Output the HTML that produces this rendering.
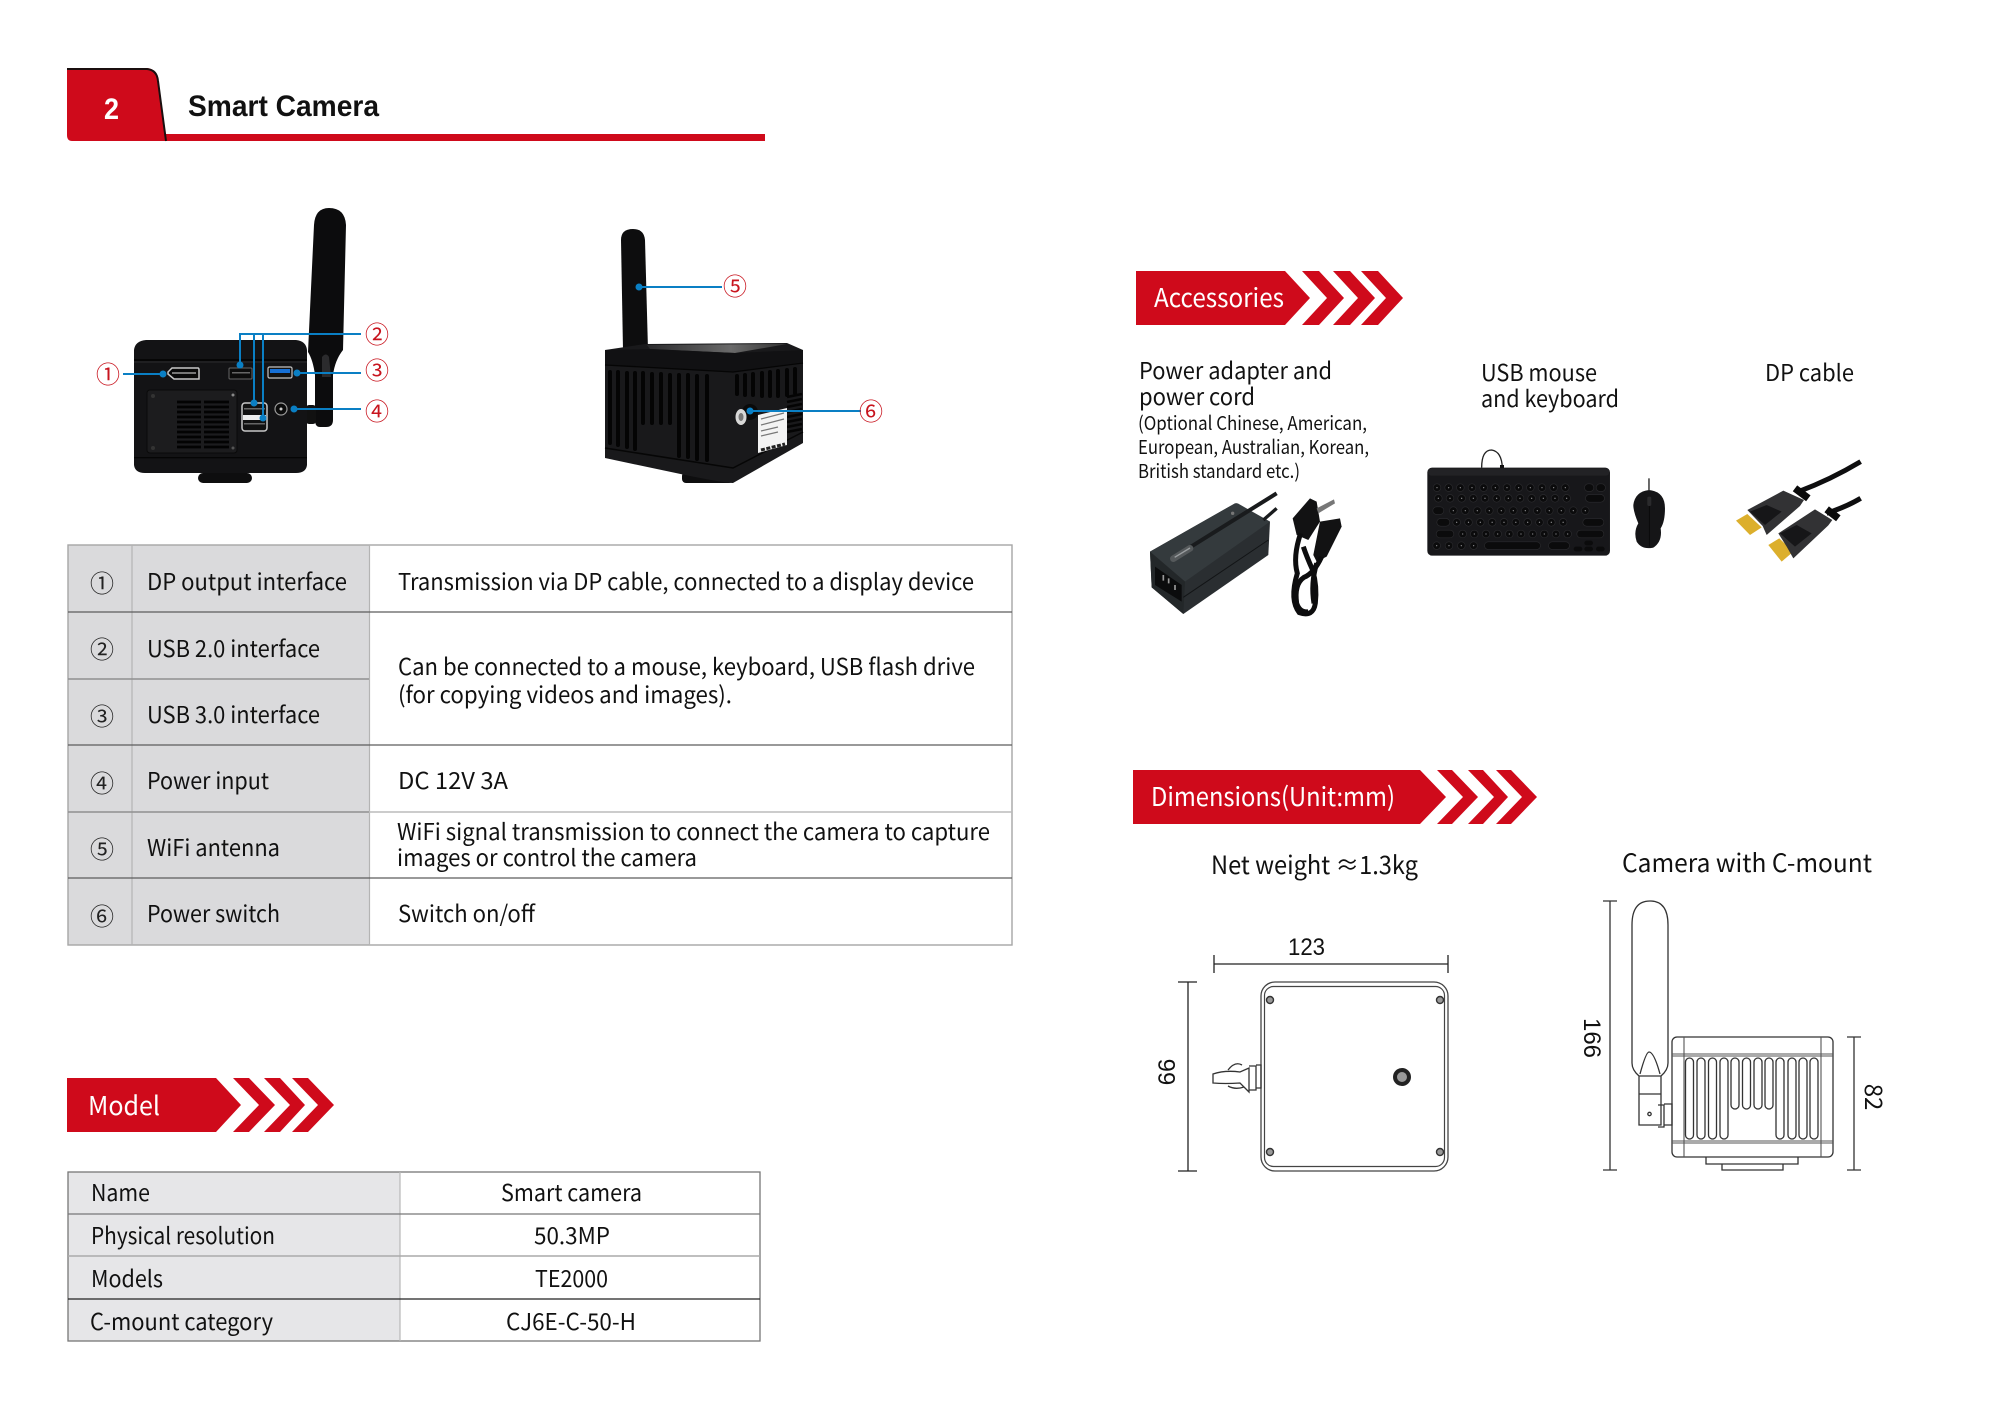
<!DOCTYPE html>
<html><head><meta charset="utf-8"><title>Smart Camera</title>
<style>
html,body{margin:0;padding:0;background:#fff;width:2000px;height:1414px;overflow:hidden}
svg{display:block}
text{font-family:"Noto Sans CJK SC","Liberation Sans",sans-serif;fill:#111}
.t{font-size:23px}
.w{fill:#fff;font-size:26px}
.a{font-family:"Liberation Sans",sans-serif;font-size:24px;fill:#111}
.c{font-size:24px;text-anchor:middle;fill:#222}
.r{font-size:24px;text-anchor:middle;fill:#c8141e}
.bl{stroke:#0a7fc4;stroke-width:2;fill:none}
.dot{fill:#0a7fc4}
.ln{stroke:#333;stroke-width:1.3;fill:none}
</style></head><body>
<svg width="2000" height="1414" viewBox="0 0 2000 1414" xmlns="http://www.w3.org/2000/svg">
<defs>
<linearGradient id="tf" x1="0" y1="0" x2="1" y2="0"><stop offset="0" stop-color="#2a2a2c"/><stop offset=".6" stop-color="#6a6a6a"/><stop offset="1" stop-color="#333"/></linearGradient>
</defs>
<rect width="2000" height="1414" fill="#fff"/>

<!-- Header -->
<rect x="165" y="134" width="600" height="7" fill="#cf0a1b"/>
<path d="M67 68H147Q157 69 158 80L166 141H72Q67 141 67 135Z" fill="#cf0a1b"/>
<path d="M67 69H147Q157 70 158 81L166 141" fill="none" stroke="#1a0f0f" stroke-width="2"/>
<text x="104" y="119" textLength="15" lengthAdjust="spacingAndGlyphs" style="font-family:'Liberation Sans',sans-serif;font-weight:bold;font-size:30px;fill:#fff">2</text>
<text x="188" y="116" textLength="191" lengthAdjust="spacingAndGlyphs" style="font-family:'Liberation Sans',sans-serif;font-weight:bold;font-size:30px;fill:#111">Smart Camera</text>

<!-- Camera 1 -->
<path d="M314 225Q315 208 329 208Q345 208 346 225L343 350Q335 360 333 375V420Q333 427 326 427H320Q315 427 315 420V375Q313 360 308 352Z" fill="#0c0c0d"/>
<path d="M322 357Q326 352 329 357L331 377H322Z" fill="#2b2b2d"/>
<rect x="306" y="405" width="10" height="19" rx="3" fill="#111"/>
<path d="M134 350Q135 341 146 340H296Q306 341 307 350V465Q306 473 296 473H145Q135 473 134 465Z" fill="#131315"/>
<path d="M134 362H307" stroke="#2b2b2d" stroke-width="1"/>
<path d="M134 360H307" stroke="#060606" stroke-width="2"/>
<rect x="134" y="457" width="173" height="1.300" fill="#050505"/>
<rect x="198" y="473" width="54" height="10" rx="5" fill="#0e0e0f"/>
<rect x="147" y="390" width="90" height="63" rx="3" fill="#1c1c1e" stroke="#0a0a0a"/>
<g stroke="#030303" stroke-width="2.800">
<path d="M177 402H201M204 402H229M177 407H201M204 407H229M177 412H201M204 412H229M177 417H201M204 417H229M177 422H201M204 422H229M177 427H201M204 427H229M177 432H201M204 432H229M177 437H201M204 437H229M177 442H201M204 442H229M177 447H201M204 447H229"/>
</g>
<circle cx="153" cy="396" r="2" fill="#333"/><circle cx="233" cy="395" r="1.500" fill="#888"/><circle cx="153" cy="448" r="2" fill="#333"/><circle cx="233" cy="448" r="1.500" fill="#555"/>
<path d="M172 368H198Q199 368 199 370V379H174L168 374V372Z" fill="#0a0a0a" stroke="#c8c8c8" stroke-width="1.500"/>
<rect x="172" y="372" width="24" height="2" fill="#777"/>
<rect x="229" y="368" width="23" height="11" rx="1" fill="#0c0c0c" stroke="#666"/>
<rect x="232" y="372" width="18" height="1.500" fill="#666"/>
<rect x="268" y="367" width="24" height="11" rx="1.500" fill="#111" stroke="#c4c4c4" stroke-width="1.200"/>
<rect x="270" y="369" width="20" height="4" fill="#1670d6"/>
<rect x="242" y="403" width="25" height="28" rx="3" fill="#111" stroke="#c8c8c8" stroke-width="1.500"/>
<rect x="243" y="415" width="23" height="5" fill="#eee"/>
<rect x="244" y="423" width="21" height="1.500" fill="#666"/><rect x="244" y="408" width="21" height="1.500" fill="#666"/>
<circle cx="281" cy="409" r="6" fill="#0b0b0b" stroke="#9a9a9a" stroke-width="1.200"/><circle cx="281" cy="409" r="1.500" fill="#ccc"/>

<!-- Camera 1 callouts -->
<path class="bl" d="M123 374H163M361 334H240V365M254 334V403M263 334V418M297 373H361M294 409H361"/>
<circle class="dot" cx="163" cy="374" r="3.500"/><circle class="dot" cx="240" cy="365" r="3.500"/><circle class="dot" cx="254" cy="403" r="3.500"/><circle class="dot" cx="263" cy="418" r="3.500"/><circle class="dot" cx="297" cy="373" r="3.500"/><circle class="dot" cx="294" cy="409" r="3.500"/>
<text class="r" x="108" y="383">①</text>
<text class="r" x="377" y="343">②</text>
<text class="r" x="377" y="379">③</text>
<text class="r" x="377" y="420">④</text>

<!-- Camera 2 -->
<path d="M621 240Q621 229 633 229Q644 229 645 240L648 350H623Z" fill="#0d0d0e"/>
<rect x="682" y="472" width="51" height="11" rx="4" fill="#0e0e0f"/>
<path d="M605 350L645 344L787 343L803 350V443L733 483Q725 483 690 476L605 458Z" fill="#19191b"/>
<path d="M647 345L787 344L735 353L650 349Z" fill="url(#tf)"/>
<path d="M605 350L650 349L735 353L803 350V362L733 372L605 365Z" fill="#111113"/>
<path d="M605 448L733 468L803 432" stroke="#060606" stroke-width="1.500" fill="none"/>
<path d="M605 365L733 372L803 363" stroke="#050505" stroke-width="1.300" fill="none"/>
<g stroke="#040404" stroke-width="4" stroke-linecap="round">
<path d="M610 372V443M618 372V445M627 373V447M635 373V449M643 373V423M652 374V423M661 374V423M670 375V423M679 375V456M688 375V457M697 376V459M707 376V460"/>
<path d="M737 376V394M745 375V395M753 374V395M762 373V396M770 372V396M778 371V396M787 370V395M795 369V393"/>
</g>
<g stroke="#040404" stroke-width="2.500"><path d="M787 397L802 394M787 402L802 399M787 407L802 404M787 412L802 409M787 417L802 414M787 422L802 419M787 427L802 424M787 432L802 429"/></g>
<circle cx="750" cy="412" r="8" fill="#0a0a0a"/>
<ellipse cx="741" cy="417" rx="5.500" ry="8" fill="#d8d8d8"/><ellipse cx="741" cy="417" rx="2.500" ry="4" fill="#777"/>
<path d="M758 415L787 408V445L758 453Z" fill="#f3f3f3"/>
<path d="M761 419L784 413M761 425L784 419M761 431L778 427M761 436L778 432" stroke="#777" stroke-width="1.200"/>
<path d="M761 450L785 444" stroke="#222" stroke-width="3" stroke-dasharray="4 1.500"/>
<path class="bl" d="M639 287H722M750 411H861"/>
<circle class="dot" cx="639" cy="287" r="3.500"/><circle class="dot" cx="750" cy="411" r="3.500"/>
<text class="r" x="735" y="295">⑤</text>
<text class="r" x="871" y="420">⑥</text>

<!-- Big table -->
<rect x="68" y="545" width="301" height="400" fill="#dadadc"/>
<rect x="68" y="545" width="944" height="400" fill="none" stroke="#a6a6a6" stroke-width="1.400"/>
<path d="M132 545V945M369.500 545V945" stroke="#b4b4b4" stroke-width="1.200"/>
<path d="M68 612H1012M68 745H1012M68 878H1012" stroke="#5c5c5c" stroke-width="1.300"/>
<path d="M68 679H369" stroke="#909090" stroke-width="1.600"/>
<path d="M68 812H369" stroke="#909090" stroke-width="1.600"/>
<path d="M369 812H1012" stroke="#bbb" stroke-width="1.600"/>
<text class="c" x="102" y="592">①</text><text class="c" x="102" y="658">②</text><text class="c" x="102" y="725">③</text><text class="c" x="102" y="792">④</text><text class="c" x="102" y="858">⑤</text><text class="c" x="102" y="925">⑥</text>
<text class="t" x="147" y="590" textLength="200" lengthAdjust="spacingAndGlyphs">DP output interface</text>
<text class="t" x="147" y="657" textLength="173" lengthAdjust="spacingAndGlyphs">USB 2.0 interface</text>
<text class="t" x="147" y="723" textLength="173" lengthAdjust="spacingAndGlyphs">USB 3.0 interface</text>
<text class="t" x="147" y="789" textLength="122" lengthAdjust="spacingAndGlyphs">Power input</text>
<text class="t" x="147" y="856" textLength="133" lengthAdjust="spacingAndGlyphs">WiFi antenna</text>
<text class="t" x="147" y="922" textLength="133" lengthAdjust="spacingAndGlyphs">Power switch</text>
<text class="t" x="398" y="590" textLength="576" lengthAdjust="spacingAndGlyphs">Transmission via DP cable, connected to a display device</text>
<text class="t" x="398" y="675" textLength="577" lengthAdjust="spacingAndGlyphs">Can be connected to a mouse, keyboard, USB flash drive</text>
<text class="t" x="398" y="703" textLength="334" lengthAdjust="spacingAndGlyphs">(for copying videos and images).</text>
<text class="t" x="398" y="789" textLength="110" lengthAdjust="spacingAndGlyphs">DC 12V 3A</text>
<text class="t" x="397" y="840" textLength="593" lengthAdjust="spacingAndGlyphs">WiFi signal transmission to connect the camera to capture</text>
<text class="t" x="397" y="866" textLength="300" lengthAdjust="spacingAndGlyphs">images or control the camera</text>
<text class="t" x="398" y="922" textLength="137" lengthAdjust="spacingAndGlyphs">Switch on/off</text>

<!-- Model -->
<path d="M67 1078H216L241 1105L216 1132H67Z" fill="#cf0a1b"/>
<path d="M233 1078H249L275 1105L249 1132H233L259 1105Z M264 1078H280L305 1105L280 1132H264L290 1105Z M292 1078H308L334 1105L308 1132H292L318 1105Z" fill="#cf0a1b"/>
<text class="w" x="88" y="1115" textLength="72" lengthAdjust="spacingAndGlyphs">Model</text>

<rect x="68" y="1172" width="332" height="169" fill="#e6e6e8"/>
<rect x="68" y="1172" width="692" height="169" fill="none" stroke="#777" stroke-width="1.300"/>
<path d="M400 1172V1341" stroke="#b8b8b8" stroke-width="1.200"/>
<path d="M68 1214H760" stroke="#777" stroke-width="1.300"/>
<path d="M68 1256H760" stroke="#aaa" stroke-width="1.600"/>
<path d="M68 1299H760" stroke="#222" stroke-width="1.300"/>
<text class="t" x="91" y="1201" textLength="59" lengthAdjust="spacingAndGlyphs">Name</text>
<text class="t" x="91" y="1244" textLength="184" lengthAdjust="spacingAndGlyphs">Physical resolution</text>
<text class="t" x="91" y="1287" textLength="72" lengthAdjust="spacingAndGlyphs">Models</text>
<text class="t" x="90" y="1330" textLength="183" lengthAdjust="spacingAndGlyphs">C-mount category</text>
<text class="t" x="501" y="1201" textLength="141" lengthAdjust="spacingAndGlyphs">Smart camera</text>
<text class="t" x="534" y="1244" textLength="76" lengthAdjust="spacingAndGlyphs">50.3MP</text>
<text class="t" x="535" y="1287" textLength="73" lengthAdjust="spacingAndGlyphs">TE2000</text>
<text class="t" x="506" y="1330" textLength="130" lengthAdjust="spacingAndGlyphs">CJ6E-C-50-H</text>

<!-- Accessories -->
<path d="M1136 271H1285L1310 298L1285 325H1136Z" fill="#cf0a1b"/>
<path d="M1302 271H1319L1344 298L1319 325H1302L1327 298Z M1333 271H1350L1375 298L1350 325H1333L1358 298Z M1361 271H1378L1403 298L1378 325H1361L1386 298Z" fill="#cf0a1b"/>
<text class="w" x="1154" y="307" textLength="130" lengthAdjust="spacingAndGlyphs">Accessories</text>

<text class="t" x="1139" y="379" textLength="193" lengthAdjust="spacingAndGlyphs">Power adapter and</text>
<text class="t" x="1139" y="405" textLength="116" lengthAdjust="spacingAndGlyphs">power cord</text>
<text x="1138" y="430" textLength="229" lengthAdjust="spacingAndGlyphs" style="font-size:19px">(Optional Chinese, American,</text>
<text x="1138" y="454" textLength="231" lengthAdjust="spacingAndGlyphs" style="font-size:19px">European, Australian, Korean,</text>
<text x="1138" y="478" textLength="162" lengthAdjust="spacingAndGlyphs" style="font-size:19px">British standard etc.)</text>
<text class="t" x="1481" y="381" textLength="116" lengthAdjust="spacingAndGlyphs">USB mouse</text>
<text class="t" x="1481" y="407" textLength="138" lengthAdjust="spacingAndGlyphs">and keyboard</text>
<text class="t" x="1765" y="381" textLength="89" lengthAdjust="spacingAndGlyphs">DP cable</text>

<!-- Power adapter (crop coords) -->
<g transform="translate(1140 490) scale(.3333)">
<path d="M30 185L285 40L390 95L385 195L130 372L35 292Z" fill="#2a2e31"/>
<path d="M30 185L285 40Q292 38 300 44L390 95L135 275Z" fill="#343a3d"/>
<path d="M30 185L135 275L130 372L35 292Z" fill="#232729"/>
<path d="M130 322L385 150" stroke="#121416" stroke-width="3"/>
<path d="M45 230L125 285V335L45 285Z" fill="#0b0c0d"/>
<path d="M70 255V272M86 265V280M105 285V300" stroke="#999" stroke-width="5"/>
<circle cx="278" cy="70" r="5" fill="#777"/>
<path d="M150 172L410 10" stroke="#191b1d" stroke-width="12"/>
<path d="M370 90L410 55" stroke="#191b1d" stroke-width="10"/>
<path d="M100 206L150 175" stroke="#55595b" stroke-width="20" stroke-linecap="round"/>
<path d="M104 202L150 174" stroke="#9a9ea0" stroke-width="4"/>
<!-- cord -->
<path d="M458 85L510 25L530 35L540 95L505 150L470 135Z" fill="#121213"/>
<path d="M530 55L582 28L585 40L535 70Z" fill="#777"/>
<path d="M540 95L600 85L605 110L560 200L530 215L520 195Z" fill="#121213"/>
<g fill="none" stroke="#0d0d0e" stroke-width="15">
<path d="M482 130Q458 200 472 250Q448 330 478 368Q520 382 526 340Q532 290 518 240Q500 200 490 170"/>
<path d="M545 200Q522 250 492 262Q462 282 470 340Q480 370 505 365"/>
<path d="M530 220Q512 280 522 340"/>
</g>
</g>

<!-- Keyboard + mouse (crop coords) -->
<g transform="translate(1420 445) scale(.3333)">
<path d="M185 68Q185 15 215 15Q245 20 247 68" fill="none" stroke="#222" stroke-width="4"/>
<rect x="240" y="60" width="12" height="10" fill="#111"/>
<rect x="22" y="68" width="548" height="264" rx="14" fill="#17171a"/>
<rect x="24" y="70" width="544" height="22" rx="10" fill="#222225"/>
<g fill="none" stroke-linecap="round">
<g stroke="#2a2a2d" stroke-width="25">
<path d="M51 128H470" stroke-dasharray="0 35"/>
<path d="M55 160H475" stroke-dasharray="0 35"/>
<path d="M100 197H505" stroke-dasharray="0 36"/>
<path d="M110 232H465" stroke-dasharray="0 35.500"/>
<path d="M128 267H445" stroke-dasharray="0 35"/>
<path d="M50 302H170" stroke-dasharray="0 37"/>
<path d="M50 197H60M62 232H78M60 267H90M505 128H510M540 128H545M508 160H542M500 232H540M482 267H540M205 302H350M397 302H437"/>
</g>
<g stroke="#0b0b0c" stroke-width="21">
<path d="M51 128H470" stroke-dasharray="0 35"/>
<path d="M55 160H475" stroke-dasharray="0 35"/>
<path d="M100 197H505" stroke-dasharray="0 36"/>
<path d="M110 232H465" stroke-dasharray="0 35.500"/>
<path d="M128 267H445" stroke-dasharray="0 35"/>
<path d="M50 302H170" stroke-dasharray="0 37"/>
<path d="M50 197H60M62 232H78M60 267H90M505 128H510M540 128H545M508 160H542M500 232H540M482 267H540M205 302H350M397 302H437"/>
</g>
<g stroke="#8a8a8c" stroke-width="4">
<path d="M51 128H470" stroke-dasharray="0 35"/>
<path d="M55 160H475" stroke-dasharray="0 35"/>
<path d="M100 197H505" stroke-dasharray="0 36"/>
<path d="M110 232H465" stroke-dasharray="0 35.500"/>
<path d="M128 267H445" stroke-dasharray="0 35"/>
<path d="M50 302H170" stroke-dasharray="0 37"/>
</g>
<path d="M468 312H480M500 312H512M535 312H547M500 294H512" stroke="#0b0b0c" stroke-width="14"/>
</g>
<path d="M687 100V135" stroke="#222" stroke-width="4"/>
<path d="M687 135Q735 140 735 190Q735 230 722 250Q728 290 700 308Q665 315 650 290Q640 260 655 235Q640 200 640 180Q645 140 687 135Z" fill="#151517"/>
<rect x="682" y="155" width="12" height="28" rx="5" fill="#2a2a2c"/>
<path d="M688 183V305" stroke="#050505" stroke-width="2"/>
</g>

<!-- DP cables (crop coords) -->
<g transform="translate(1730 450) scale(.3333)">
<path d="M392 35Q300 90 205 125" stroke="#0e0e0f" stroke-width="15" fill="none"/>
<path d="M392 145Q350 170 290 190" stroke="#0e0e0f" stroke-width="15" fill="none"/>
<path d="M195 115L235 145M290 178L325 205" stroke="#0a0a0a" stroke-width="22"/>
<path d="M18 212L52 192L95 232L60 255Z" fill="#dcaf2c"/>
<path d="M52 180L160 122L222 150L210 168L110 255L98 228Z" fill="#323234"/>
<path d="M60 185L110 165L155 185L105 225Z" fill="#161618"/>
<path d="M115 285L148 265L190 305L155 335Z" fill="#dcaf2c"/>
<path d="M145 250L255 178L307 210L295 226L190 325L170 290Z" fill="#323234"/>
<path d="M150 250L200 225L245 250L195 290Z" fill="#161618"/>
</g>

<!-- Dimensions -->
<path d="M1133 770H1420L1446 797L1420 824H1133Z" fill="#cf0a1b"/>
<path d="M1437 770H1452L1478 797L1452 824H1437L1463 797Z M1468 770H1483L1508 797L1483 824H1468L1494 797Z M1496 770H1511L1537 797L1511 824H1496L1522 797Z" fill="#cf0a1b"/>
<text class="w" x="1151" y="806" textLength="244" lengthAdjust="spacingAndGlyphs">Dimensions(Unit:mm)</text>

<text x="1211" y="874" textLength="207" lengthAdjust="spacingAndGlyphs" style="font-size:25px">Net weight ≈1.3kg</text>
<text x="1622" y="872" textLength="250" lengthAdjust="spacingAndGlyphs" style="font-size:25px">Camera with C-mount</text>

<!-- Top view -->
<text class="a" x="1288" y="955" textLength="37" lengthAdjust="spacingAndGlyphs">123</text>
<path d="M1214 964H1448M1214 955V973M1448 955V973M1188 982V1171M1178 982H1197M1178 1171H1197" stroke="#222" stroke-width="1.300" fill="none"/>
<text class="a" transform="translate(1175 1072) rotate(-90)" text-anchor="middle">66</text>
<rect x="1261" y="982" width="187" height="189" rx="14" fill="#fff" stroke="#444" stroke-width="1.300"/>
<rect x="1264.500" y="986.500" width="180" height="180" rx="9" fill="none" stroke="#444" stroke-width="1.200"/>
<g fill="#999" stroke="#333" stroke-width="1.400"><circle cx="1270" cy="1000" r="3.500"/><circle cx="1440" cy="1000" r="3.500"/><circle cx="1270" cy="1152" r="3.500"/><circle cx="1440" cy="1152" r="3.500"/></g>
<circle cx="1402" cy="1077" r="7" fill="#999" stroke="#222" stroke-width="4"/>
<path class="ln" d="M1213 1074Q1225 1070 1240 1072L1249 1068V1092L1240 1083Q1225 1084 1213 1083ZM1228 1070Q1235 1061 1242 1065M1228 1086Q1235 1090 1244 1087M1249 1066H1256V1090H1249M1256 1065H1261V1088H1256"/>

<!-- Side view -->
<path d="M1610 901V1170M1603 901H1617M1603 1170H1617M1854 1037V1170M1847 1037H1861M1847 1170H1861" stroke="#333" stroke-width="1.300" fill="none"/>
<text class="a" transform="translate(1584 1038) rotate(90)" text-anchor="middle">166</text>
<text transform="translate(1865 1097) rotate(90)" text-anchor="middle" style="font-size:24px">82</text>
<path class="ln" d="M1632 925Q1632 901 1650 901Q1668 901 1668 925V1063Q1668 1070 1661 1076H1639Q1632 1070 1632 1063ZM1640 1074Q1646 1052 1649 1052Q1654 1052 1660 1074M1639 1076V1125H1661V1076M1639 1094H1661"/>
<circle class="ln" cx="1649.500" cy="1114" r="1.700"/>
<path class="ln" d="M1658 1105H1664V1127H1658M1664 1104H1672V1125H1664"/>
<rect class="ln" x="1672" y="1037" width="161" height="120" rx="5"/>
<path d="M1684 1037V1157M1821 1037V1157M1672 1054H1833M1672 1056H1833M1672 1141H1833M1672 1143H1833" stroke="#555" stroke-width="1.100"/>
<g class="ln">
<rect x="1685.500" y="1058" width="8" height="81" rx="4" fill="#fff"/><rect x="1697" y="1058" width="8" height="81" rx="4" fill="#fff"/><rect x="1708.500" y="1058" width="8" height="81" rx="4" fill="#fff"/><rect x="1720" y="1058" width="8" height="81" rx="4" fill="#fff"/>
<rect x="1731" y="1058" width="8" height="51" rx="4" fill="#fff"/><rect x="1742.500" y="1058" width="8" height="51" rx="4" fill="#fff"/><rect x="1754" y="1058" width="8" height="51" rx="4" fill="#fff"/><rect x="1765" y="1058" width="8" height="51" rx="4" fill="#fff"/>
<rect x="1776" y="1058" width="8" height="81" rx="4" fill="#fff"/><rect x="1788" y="1058" width="8" height="81" rx="4" fill="#fff"/><rect x="1799" y="1058" width="8" height="81" rx="4" fill="#fff"/><rect x="1810" y="1058" width="8" height="81" rx="4" fill="#fff"/>
</g>
<path class="ln" d="M1706 1157V1164H1798V1157M1722 1164V1170H1783V1164"/>
</svg>
</body></html>
